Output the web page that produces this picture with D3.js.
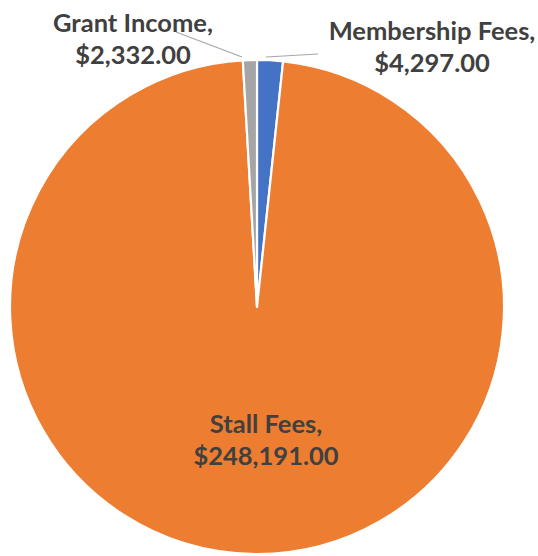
<!DOCTYPE html>
<html>
<head>
<meta charset="utf-8">
<script src="https://cdn.jsdelivr.net/npm/d3@7"></script>
<style>
  html, body { margin: 0; padding: 0; background: #fff; }
  svg { display: block; }
  text { font-family: Lato, "Open Sans", sans-serif; font-weight: bold; fill: #404040; }
</style>
</head>
<body>
<svg id="chart" width="538" height="556"></svg>
<script>
const categories = ["Membership Fees", "Stall Fees", "Grant Income"];
const values = [4297, 248191, 2332];
const colors = ["#4472C4", "#ED7D31", "#A5A5A5"];

const W = 538, H = 556;
const cx = 257, cy = 307, R = 247;
const fontSize = 25.5;

// label layout: [centre x, first baseline y], leader line [x1,y1,x2,y2]
const labelLayout = {
  "Membership Fees": { x: 432, y: 40, line: [318, 54, 266, 57] },
  "Stall Fees": { x: 266, y: 433, line: null },
  "Grant Income": { x: 133, y: 32, line: [176, 32, 242, 57] }
};

const svg = d3.select("#chart");
const g = svg.append("g").attr("transform", `translate(${cx},${cy})`);

const data = categories.map((c, i) => ({ cat: c, value: values[i], color: colors[i] }));
const pie = d3.pie().sort(null).value(d => d.value).startAngle(0).endAngle(2 * Math.PI);
const arc = d3.arc().innerRadius(0).outerRadius(R);
const arcs = pie(data);

g.selectAll("path.slice")
  .data(arcs)
  .join("path")
  .attr("class", "slice")
  .attr("d", arc)
  .attr("fill", d => d.data.color)
  .attr("stroke", "#fff")
  .attr("stroke-width", 2.2)
  .attr("stroke-linejoin", "round");

const fmt = d3.format("$,.2f");

arcs.forEach(a => {
  const L = labelLayout[a.data.cat];
  if (L.line) {
    svg.append("line")
      .attr("x1", L.line[0]).attr("y1", L.line[1])
      .attr("x2", L.line[2]).attr("y2", L.line[3])
      .attr("stroke", "#A6A6A6").attr("stroke-width", 1.2);
  }
  const t = svg.append("text")
    .attr("x", L.x).attr("y", L.y)
    .attr("text-anchor", "middle")
    .style("font-size", fontSize + "px");
  t.append("tspan").attr("x", L.x).attr("dy", 0).text(a.data.cat + ",");
  t.append("tspan").attr("x", L.x).attr("dy", 32).text(fmt(a.data.value));
});
</script>
</body>
</html>
